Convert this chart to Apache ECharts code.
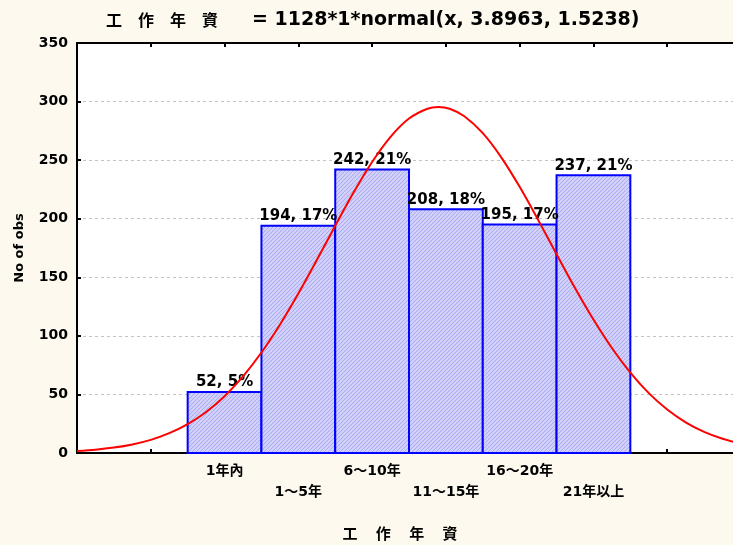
<!DOCTYPE html>
<html>
<head>
<meta charset="utf-8">
<script src="https://cdn.jsdelivr.net/npm/echarts@6/dist/echarts.min.js"></script>
<style>
  html, body { margin: 0; padding: 0; background: #fdf9ee; }
  #chart { width: 733px; height: 545px; }
</style>
</head>
<body>
<div id="chart"></div>
<script>
// Seniority groups, counts and share of all respondents
const categories = ['1年內', '1～5年', '6～10年', '11～15年', '16～20年', '21年以上'];
const positions = [1, 2, 3, 4, 5, 6];
const counts = [52, 194, 242, 208, 195, 237];
const percents = [5, 17, 21, 18, 17, 21];

// Fitted normal curve, sampled along the x axis (peak near 3.9)
const curveX = [-1, -0.75, -0.5, -0.25, 0, 0.25, 0.5, 0.75, 1, 1.25, 1.5, 1.75, 2, 2.25, 2.5, 2.75,
  3, 3.25, 3.5, 3.75, 3.9, 4.05, 4.25, 4.5, 4.75, 5, 5.25, 5.5, 5.75, 6, 6.25, 6.5, 6.75, 7, 7.25, 7.5, 7.75, 8];
const curveY = [1.7, 2.8, 4.6, 7.3, 11.2, 16.9, 24.6, 35.0, 48.5, 65.4, 85.8, 109.5, 136.1, 164.7, 194.0, 222.5,
  248.4, 269.9, 285.5, 293.9, 295.3, 293.9, 287.5, 273.0, 252.4, 227.2, 199.0, 169.7, 140.9, 113.9, 89.6, 68.6, 51.1,
  37.1, 26.2, 18.0, 12.1, 7.9];

const yTicks = [0, 50, 100, 150, 200, 250, 300, 350];

const titleVar = '工　作　年　資';
const titleText = '= 1128*1*normal(x, 3.8963, 1.5238)';
const xName = '工　 作　 年　 資';
const yName = 'No of obs';

const FONT = '"DejaVu Sans", "Noto Sans CJK TC", sans-serif';

function hatchCanvas() {
  const c = document.createElement('canvas');
  c.width = 4; c.height = 4;
  const g = c.getContext('2d');
  g.fillStyle = '#d0d0fb';
  g.fillRect(0, 0, 4, 4);
  g.fillStyle = '#aaaaf0';
  for (let i = 0; i < 4; i++) g.fillRect(i, 3 - i, 1, 1);
  return c;
}
const hatch = { image: hatchCanvas(), repeat: 'repeat' };

const chart = echarts.init(document.getElementById('chart'), null, { renderer: 'canvas' });

const barData = positions.map((p, i) => [p, counts[i], percents[i]]);
const curveData = curveX.map((x, i) => [x, curveY[i]]);

const axisCommon = {
  type: 'value',
  min: -1,
  max: 8,
  interval: 1,
  axisLine: { show: true, onZero: false, lineStyle: { color: '#000', width: 2 } },
  axisTick: { show: true, inside: true, length: 4, lineStyle: { color: '#000', width: 2 } },
  splitLine: { show: false }
};

const option = {
  backgroundColor: '#fdf9ee',
  animation: false,
  textStyle: { fontFamily: FONT },
  grid: {
    left: 77, top: 43, width: 664, height: 410,
    outerBoundsMode: 'none',
    containLabel: false,
    backgroundColor: '#fff', show: true, borderWidth: 0
  },
  xAxis: [
    Object.assign({}, axisCommon, {
      position: 'bottom',
      axisLabel: {
        show: true,
        margin: 8,
        color: '#000',
        fontWeight: 'bold',
        fontSize: 14,
        fontFamily: FONT,
        lineHeight: 21,
        verticalAlign: 'top',
        showMinLabel: true,
        showMaxLabel: true,
        formatter: function (v) {
          const i = positions.indexOf(v);
          if (i < 0) return '';
          return (i % 2 === 1 ? '\n' : '') + categories[i];
        }
      }
    }),
    Object.assign({}, axisCommon, {
      position: 'top',
      axisLabel: { show: false }
    })
  ],
  yAxis: {
    type: 'value',
    min: 0,
    max: 350,
    interval: 50,
    axisLine: { show: true, onZero: false, lineStyle: { color: '#000', width: 2 } },
    axisTick: { show: true, inside: true, length: 4, lineStyle: { color: '#000', width: 2 } },
    axisLabel: {
      margin: 9,
      color: '#000',
      fontWeight: 'bold',
      fontSize: 14,
      fontFamily: FONT,
      formatter: function (v) { return yTicks.indexOf(v) >= 0 ? String(v) : ''; }
    },
    splitLine: { show: true, lineStyle: { color: '#c4c4c4', type: [3, 3], width: 1 } }
  },
  graphic: [
    {
      type: 'text',
      x: 106,
      y: 20,
      style: {
        text: '{c|' + titleVar + '}{sp|}{l|' + titleText + '}',
        verticalAlign: 'middle',
        rich: {
          c: { font: 'bold 16px "Noto Sans CJK TC"', fill: '#000' },
          sp: { width: 34 },
          l: { font: 'bold 19px ' + FONT, fill: '#000' }
        }
      }
    },
    {
      type: 'text',
      x: 400,
      y: 533,
      style: {
        text: xName,
        font: 'bold 15px "Noto Sans CJK TC"',
        fill: '#000',
        align: 'center',
        verticalAlign: 'middle'
      }
    },
    {
      type: 'text',
      x: 20,
      y: 248,
      rotation: Math.PI / 2,
      style: {
        text: yName,
        font: 'bold 13px ' + FONT,
        fill: '#000',
        align: 'center',
        verticalAlign: 'middle'
      }
    }
  ],
  series: [
    {
      type: 'custom',
      xAxisIndex: 0,
      yAxisIndex: 0,
      z: 2,
      data: barData,
      renderItem: function (params, api) {
        const x = api.value(0);
        const y = api.value(1);
        const pct = api.value(2);
        const p0 = api.coord([x - 0.5, y]);
        const p1 = api.coord([x + 0.5, 0]);
        return {
          type: 'rect',
          shape: { x: p0[0], y: p0[1], width: p1[0] - p0[0], height: p1[1] - p0[1] },
          style: { fill: hatch, stroke: '#0000ff', lineWidth: 2 },
          textContent: {
            style: {
              text: y + ', ' + pct + '%',
              font: 'bold 15px ' + FONT,
              fill: '#000'
            }
          },
          textConfig: { position: 'top', distance: 1 }
        };
      }
    },
    {
      type: 'line',
      xAxisIndex: 0,
      yAxisIndex: 0,
      z: 5,
      data: curveData,
      smooth: 0.3,
      showSymbol: false,
      symbol: 'none',
      lineStyle: { color: '#ff0000', width: 2 },
      clip: true
    }
  ]
};

chart.setOption(option);
</script>
</body>
</html>
